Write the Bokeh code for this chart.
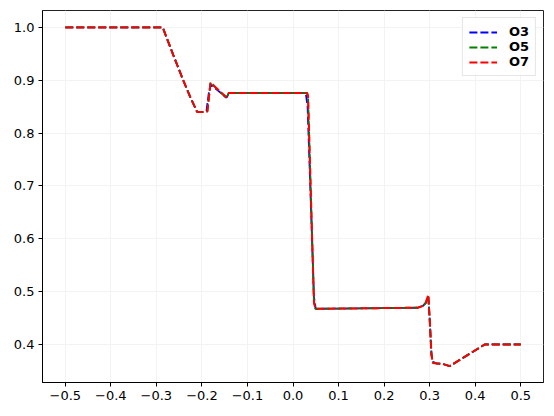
from bokeh.plotting import figure
from bokeh.models import Range1d, FixedTicker, CustomJSTickFormatter, Legend, LegendItem
from bokeh.embed import file_html
from bokeh.resources import INLINE

# ---- data ----
x_o7 = [-0.5, -0.286, -0.263, -0.241, -0.225, -0.2105, -0.196, -0.188, -0.183, -0.181,
        -0.146, -0.141, -0.13, 0.031, 0.033, 0.046, 0.049, 0.06, 0.19, 0.274, 0.285,
        0.291, 0.297, 0.300, 0.304, 0.307, 0.316, 0.328, 0.344, 0.383, 0.421, 0.5]
y_o7 = [1.0, 1.0, 0.948, 0.900, 0.867, 0.840, 0.840, 0.841, 0.880, 0.895,
        0.868, 0.876, 0.876, 0.876, 0.870, 0.480, 0.4675, 0.4675, 0.4687, 0.4695, 0.473,
        0.478, 0.494, 0.450, 0.380, 0.365, 0.364, 0.3634, 0.359, 0.3798, 0.400, 0.400]

x_o5 = [-0.5, -0.286, -0.263, -0.241, -0.225, -0.2105, -0.196, -0.188, -0.183, -0.181,
        -0.146, -0.141, -0.13, 0.031, 0.033, 0.046, 0.049, 0.06, 0.19, 0.274, 0.285,
        0.291, 0.297, 0.300, 0.304, 0.307, 0.316, 0.328, 0.344, 0.383, 0.421, 0.5]
y_o5 = [1.0, 1.0, 0.948, 0.900, 0.867, 0.840, 0.840, 0.841, 0.881, 0.896,
        0.866, 0.876, 0.876, 0.876, 0.869, 0.482, 0.4675, 0.4675, 0.4687, 0.4695, 0.473,
        0.478, 0.492, 0.450, 0.380, 0.366, 0.364, 0.3634, 0.359, 0.3798, 0.400, 0.400]

x_o3 = [-0.5, -0.286, -0.263, -0.241, -0.225, -0.2105, -0.197, -0.190, -0.185, -0.181,
        -0.146, -0.141, -0.13, 0.028, 0.032, 0.046, 0.050, 0.06, 0.19, 0.274, 0.285,
        0.291, 0.297, 0.300, 0.304, 0.307, 0.316, 0.328, 0.344, 0.383, 0.421, 0.5]
y_o3 = [1.0, 1.0, 0.948, 0.900, 0.867, 0.840, 0.840, 0.842, 0.875, 0.892,
        0.867, 0.876, 0.876, 0.876, 0.850, 0.490, 0.4675, 0.4675, 0.4687, 0.4695, 0.473,
        0.478, 0.489, 0.450, 0.382, 0.367, 0.364, 0.3634, 0.359, 0.3798, 0.400, 0.400]

series_names = ["O3", "O5", "O7"]
series_colors = ["#0000ff", "#008000", "#ff0000"]
series_widths = [1.8, 1.9, 2.0]
x_ticks = [-0.5, -0.4, -0.3, -0.2, -0.1, 0.0, 0.1, 0.2, 0.3, 0.4, 0.5]
y_ticks = [0.4, 0.5, 0.6, 0.7, 0.8, 0.9, 1.0]

p = figure(width=550, height=410, output_backend="svg", toolbar_location=None,
           x_range=Range1d(-0.55, 0.55), y_range=Range1d(0.328, 1.032),
           min_border_left=42, min_border_right=7, min_border_top=10, min_border_bottom=28)
p.background_fill_color = "white"
p.border_fill_color = "white"
p.outline_line_color = "#222222"
p.outline_line_width = 1

renderers = []
for xs, ys, c, w in zip([x_o3, x_o5, x_o7], [y_o3, y_o5, y_o7], series_colors, series_widths):
    r = p.line(xs, ys, line_color=c, line_width=w, line_dash="8 3")
    renderers.append(r)

fmt = CustomJSTickFormatter(code="return tick.toFixed(1).replace('-', '\\u2212');")
for ax, ticks in ((p.xaxis[0], x_ticks), (p.yaxis[0], y_ticks)):
    ax.ticker = FixedTicker(ticks=ticks)
    ax.formatter = fmt
    ax.minor_tick_line_color = None
    ax.major_tick_in = 0
    ax.major_tick_out = 4
    ax.axis_line_color = "black"
    ax.major_tick_line_color = "black"
    ax.major_label_text_font = "DejaVu Sans"
    ax.major_label_text_font_size = "13px"
    ax.major_label_text_color = "black"
    ax.major_label_standoff = 4
    ax.major_label_text_font_style = "normal"

p.grid.grid_line_color = "#f1f4f1"
p.grid.grid_line_width = 1
p.xgrid.ticker = FixedTicker(ticks=x_ticks)
p.ygrid.ticker = FixedTicker(ticks=y_ticks)

legend = Legend(items=[LegendItem(label=n, renderers=[r]) for n, r in zip(series_names, renderers)],
                location="top_right")
legend.label_text_font = "DejaVu Sans"
legend.label_text_font_style = "bold"
legend.label_text_font_size = "13px"
legend.label_text_color = "black"
legend.glyph_width = 28
legend.glyph_height = 14
legend.label_height = 14
legend.label_standoff = 12
legend.spacing = 0
legend.padding = 6
legend.margin = 7
legend.border_line_color = "#cccccc"
legend.background_fill_alpha = 0.8
p.add_layout(legend)

open("out.html", "w").write(file_html(p, INLINE))
